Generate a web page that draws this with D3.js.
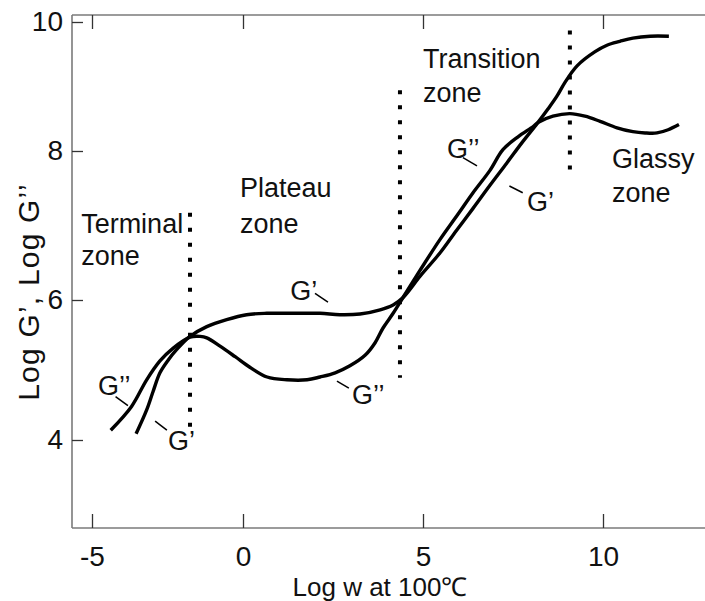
<!DOCTYPE html>
<html>
<head>
<meta charset="utf-8">
<script src="https://cdn.jsdelivr.net/npm/d3@7"></script>
<style>
  html, body { margin: 0; padding: 0; background: #fff; }
  svg { display: block; }
  text { font-family: "Liberation Sans", Arial, sans-serif; fill: #111; }
</style>
</head>
<body>
<div id="chart"></div>
<script>
// ---- data ----
const xTickValues = [-5, 0, 5, 10];
const xTickLabels = ["-5", "0", "5", "10"];
const yTickValues = [4, 6, 8, 10];
const yTickLabels = ["4", "6", "8", "10"];

// G'' (loss modulus)
const gDoublePrimeX = [-4.38, -3.69, -3.19, -2.75, -2.32, -1.755, -1.42, -1.2, -0.76, -0.26, 0.19, 0.67, 1.22, 1.78, 2.14, 2.56, 2.97, 3.39, 3.67, 3.89, 4.17, 4.44, 4.92, 5.47, 5.97, 6.39, 6.86, 7.22, 7.64, 8.06, 8.19, 8.61, 9.08, 9.5, 9.92, 10.39, 10.83, 11.17, 11.5, 11.81, 12.11];
const gDoublePrimeY = [4.14, 4.48, 4.86, 5.13, 5.31, 5.47, 5.48, 5.46, 5.34, 5.19, 5.04, 4.90, 4.86, 4.86, 4.90, 4.96, 5.06, 5.21, 5.39, 5.60, 5.81, 6.03, 6.40, 6.81, 7.15, 7.44, 7.74, 8.02, 8.22, 8.38, 8.44, 8.54, 8.58, 8.54, 8.46, 8.36, 8.30, 8.28, 8.28, 8.33, 8.41];

// G' (storage modulus)
const gPrimeX = [-3.54, -3.19, -2.98, -2.75, -2.48, -2.20, -1.755, -1.20, -0.54, 0.10, 0.66, 1.39, 2.14, 2.69, 3.25, 3.81, 4.17, 4.44, 4.92, 5.47, 5.94, 6.39, 6.86, 7.33, 7.75, 8.19, 8.47, 8.72, 8.94, 9.28, 9.78, 10.11, 10.47, 10.83, 11.31, 11.83];
const gPrimeY = [4.09, 4.43, 4.69, 4.96, 5.14, 5.29, 5.48, 5.62, 5.72, 5.79, 5.81, 5.81, 5.81, 5.79, 5.80, 5.86, 5.93, 6.03, 6.32, 6.63, 6.94, 7.23, 7.54, 7.84, 8.13, 8.44, 8.65, 8.85, 9.06, 9.32, 9.54, 9.64, 9.70, 9.75, 9.78, 9.78];

// zone boundaries (dotted)
const boundaryX = [-1.755, 4.36, 9.08];
const boundaryYTop = [7.17, 8.94, 9.87];
const boundaryYBottom = [4.14, 4.89, 7.68];

// zone names
const zoneLines = [["Terminal", "zone"], ["Plateau", "zone"], ["Transition", "zone"], ["Glassy", "zone"]];
const zoneX = [-5.36, -0.10, 5.0, 10.25];
const zoneY = [6.90, 7.38, 9.28, 7.77];
const zoneY2 = [6.47, 6.90, 8.76, 7.32];

// curve labels with leader lines
const curveLabels = ["G\u2019\u2019", "G\u2019", "G\u2019", "G\u2019\u2019", "G\u2019\u2019", "G\u2019"];
const labelX = [-4.80, -2.48, 1.31, 3.03, 5.67, 7.89];
const labelY = [4.64, 3.86, 6.00, 4.51, 7.91, 7.19];
const leaderX1 = [-4.22, -2.91, 2.00, 2.61, 6.11, 7.40];
const leaderY1 = [4.62, 4.27, 6.09, 4.84, 7.91, 7.53];
const leaderX2 = [-3.81, -2.52, 2.36, 2.94, 6.50, 7.77];
const leaderY2 = [4.49, 4.14, 5.97, 4.74, 7.80, 7.44];

const xTitle = "Log w at 100\u2103";
const yTitle = "Log G\u2019, Log G\u2019\u2019";

// ---- layout ----
const W = 705, H = 601;
const padL = 72, padT = 15, padB = 528, padR = 705;

const x = d3.scaleLinear().domain(xTickValues).range([92, 243, 423, 603]);
const y = d3.scaleLinear().domain(yTickValues).range([440, 300, 151, 22]);

const svg = d3.select("#chart").append("svg")
  .attr("width", W).attr("height", H)
  .style("background", "#fff");

// frame
const frameColor = "#7a7a7a";
svg.append("line").attr("x1", padL).attr("x2", padL).attr("y1", padT).attr("y2", padB)
  .attr("stroke", frameColor).attr("stroke-width", 1.6);
svg.append("line").attr("x1", padL).attr("x2", padR).attr("y1", padT).attr("y2", padT)
  .attr("stroke", frameColor).attr("stroke-width", 1.6);
svg.append("line").attr("x1", padL).attr("x2", padR).attr("y1", padB).attr("y2", padB)
  .attr("stroke", frameColor).attr("stroke-width", 1.6);

// bottom axis
const xAxis = d3.axisBottom(x).tickValues(xTickValues)
  .tickFormat((d, i) => xTickLabels[i]).tickSize(-14).tickPadding(18);
const gx = svg.append("g").attr("transform", `translate(0,${padB})`).call(xAxis);
gx.select(".domain").remove();
gx.selectAll(".tick line").attr("stroke", "#333").attr("stroke-width", 1.3);
gx.selectAll(".tick text").attr("font-size", 28).attr("fill", "#111")
  .attr("font-family", "Liberation Sans, Arial, sans-serif");

// top axis ticks
const xAxisTop = d3.axisTop(x).tickValues(xTickValues).tickFormat("").tickSize(-14);
const gxt = svg.append("g").attr("transform", `translate(0,${padT})`).call(xAxisTop);
gxt.select(".domain").remove();
gxt.selectAll(".tick line").attr("stroke", "#333").attr("stroke-width", 1.3);

// left axis
const yAxis = d3.axisLeft(y).tickValues(yTickValues)
  .tickFormat((d, i) => yTickLabels[i]).tickSize(-11).tickPadding(9);
const gy = svg.append("g").attr("transform", `translate(${padL},0)`).call(yAxis);
gy.select(".domain").remove();
gy.selectAll(".tick line").attr("stroke", "#333").attr("stroke-width", 1.3);
gy.selectAll(".tick text").attr("font-size", 28).attr("fill", "#111")
  .attr("font-family", "Liberation Sans, Arial, sans-serif");

// axis titles
svg.append("text").attr("x", 380).attr("y", 595.5).attr("text-anchor", "middle")
  .attr("font-size", 26).text(xTitle);
svg.append("text").attr("transform", `translate(39,${292}) rotate(-90)`)
  .attr("text-anchor", "middle").attr("font-size", 30)
  .attr("letter-spacing", 1.2).text(yTitle);

// zone boundaries
boundaryX.forEach((bx, i) => {
  svg.append("line")
    .attr("x1", x(bx)).attr("x2", x(bx))
    .attr("y1", y(boundaryYTop[i])).attr("y2", y(boundaryYBottom[i]))
    .attr("stroke", "#000").attr("stroke-width", 4)
    .attr("stroke-dasharray", "4 11");
});

// curves
const line = d3.line().x(d => x(d[0])).y(d => y(d[1])).curve(d3.curveCatmullRom.alpha(0.5));
const gpp = gDoublePrimeX.map((v, i) => [v, gDoublePrimeY[i]]);
const gp = gPrimeX.map((v, i) => [v, gPrimeY[i]]);
[gpp, gp].forEach(series => {
  svg.append("path").datum(series).attr("d", line)
    .attr("fill", "none").attr("stroke", "#000").attr("stroke-width", 3.4)
    .attr("stroke-linejoin", "round");
});

// zone names
zoneLines.forEach((lines, i) => {
  svg.append("text").attr("x", x(zoneX[i])).attr("y", y(zoneY[i]))
    .attr("font-size", 27).text(lines[0]);
  svg.append("text").attr("x", x(zoneX[i])).attr("y", y(zoneY2[i]))
    .attr("font-size", 27).text(lines[1]);
});

// curve labels
curveLabels.forEach((t, i) => {
  svg.append("text").attr("x", x(labelX[i])).attr("y", y(labelY[i]))
    .attr("font-size", 27).text(t);
  svg.append("line")
    .attr("x1", x(leaderX1[i])).attr("y1", y(leaderY1[i]))
    .attr("x2", x(leaderX2[i])).attr("y2", y(leaderY2[i]))
    .attr("stroke", "#000").attr("stroke-width", 1.5);
});
</script>
</body>
</html>
